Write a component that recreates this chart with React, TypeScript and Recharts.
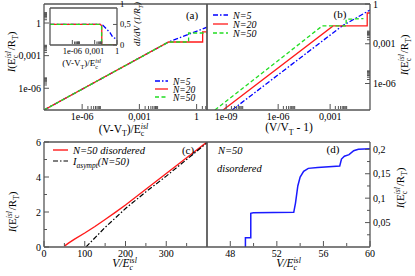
import React from 'react';
import { LineChart, Line, XAxis, YAxis } from 'recharts';

const W = 415;
const H = 276;
const FONT = '"Liberation Serif", "DejaVu Serif", serif';
const FRAME = '#555';
const BLUE = '#0000ff';
const RED = '#ff1a1a';
const GREEN = '#22dd22';
const BLACK = '#000';

// ---------- Panel (a): I vs (V-VT)/Ec ----------
const aN5X = [1e-8, 0.034, 3.5];
const aN5Y = [1e-8, 0.018, 0.41];
const aN20X = [1e-8, 0.034, 2.07, 2.07, 3.5];
const aN20Y = [1e-8, 0.018, 0.018, 0.15, 0.15];
const aN50X = [1e-8, 0.034, 0.38, 0.38, 3.5];
const aN50Y = [1e-8, 0.018, 0.018, 0.12, 0.12];
const aXMajors = [1e-6, 1e-3, 1];
const aXLabels = ['1e-06', '0,001', '1'];
const aYMajors = [1e-6, 1e-3, 1];
const aYLabels = ['1e-06', '0,001', '1'];

// ---------- Inset of (a): dI/dV ----------
const inN5X = [1e-9, 5.2e-3, 0.013, 0.115, 0.29, 1];
const inN5Y = [0.5, 0.5, 0.48, 0.3, 0.18, 0.15];
const inN20X = [1e-9, 6e-3, 9e-3, 9e-3, 1];
const inN20Y = [0.5, 0.5, 0.46, 0, 0];
const inN50X = [1e-9, 5.5e-3, 8.5e-3, 8.5e-3, 1];
const inN50Y = [0.5, 0.5, 0.46, 0, 0];
const inXMajors = [1e-6, 1e-3, 1];
const inXLabels = ['1e-06', '0,001', '1'];
const inYMajors = [0, 0.5, 1];
const inYLabels = ['0', '0,5', '1'];

// ---------- Panel (b): I vs V/VT - 1 ----------
const bN5X = [2.2e-9, 4.9e-3, 0.2];
const bN5Y = [1e-8, 0.022, 0.35];
const bN20X = [6.6e-10, 1.48e-3, 0.138, 0.138, 0.2];
const bN20Y = [1e-8, 0.022, 0.022, 0.21, 0.21];
const bN50X = [2.24e-10, 3.5e-4, 8.4e-3, 8.4e-3, 0.084];
const bN50Y = [1e-8, 0.022, 0.022, 0.07, 0.08];
const bXMajors = [1e-9, 1e-6, 1e-3];
const bXLabels = ['1e-09', '1e-06', '0,001'];
const bYMajors = [1e-6, 1e-3, 1];
const bYLabels = ['1e-06', '0,001', '1'];

// ---------- Panel (c): disordered N=50 ----------
const cVRed = [50, 60, 75, 100, 125, 150, 175, 200, 250, 300, 350, 400];
const cIRed = [0.05, 0.22, 0.45, 0.8, 1.17, 1.57, 1.98, 2.4, 3.3, 4.2, 5.1, 6.0];
const cVAsym = [103, 150, 200, 250, 300, 350, 400];
const cIAsym = [0, 1.12, 2.2, 3.15, 4.05, 5.0, 5.95];
const cXMajors = [0, 100, 200, 300];
const cXLabels = ['0', '100', '200', '300'];
const cXMinors = [50, 150, 250, 350];
const cYMajors = [0, 2, 4, 6];
const cYLabels = ['0', '2', '4', '6'];
const cYMinors = [1, 3, 5];

// ---------- Panel (d): zoom on the steps ----------
const dV = [49.3, 49.3, 49.76, 49.76, 49.97, 53.45, 53.6, 53.8, 54.0, 54.3, 54.7, 55.5, 57.4, 57.55, 57.8, 58.2, 58.6, 59.0, 60];
const dI = [0, 0.019, 0.019, 0.069, 0.07, 0.071, 0.09, 0.125, 0.143, 0.155, 0.161, 0.163, 0.166, 0.18, 0.186, 0.189, 0.197, 0.2, 0.201];
const dXMajors = [48, 52, 56, 60];
const dXLabels = ['48', '52', '56', '60'];
const dXMinors = [50, 54, 58];
const dYMajors = [0.05, 0.1, 0.15, 0.2];
const dYLabels = ['0,05', '0,1', '0,15', '0,2'];
const dYMinors = [0.025, 0.075, 0.125, 0.175];

type Dom = [number, number];
const pts = (xs: number[], ys: number[]) => xs.map((x, i) => ({ x, y: ys[i] }));
const decadeMinors = (majors: number[], dom: Dom) =>
  majors
    .flatMap((m) => [2, 3, 4, 5, 6, 7, 8, 9].map((k) => k * m))
    .filter((v) => v >= dom[0] && v <= dom[1]);

function tickRenderer(
  side: 'bottom' | 'left' | 'right',
  majors: number[],
  labels: string[],
  dom: Dom,
  fs: number,
  majLen = 5,
  minLen = 3,
) {
  return (props: any) => {
    const { payload } = props;
    const x = Number(props.x);
    const y = Number(props.y);
    const v = payload.value;
    const idx = majors.indexOf(v);
    const inside = v >= dom[0] - 1e-12 && v <= dom[1] * (1 + 1e-9);
    const len = idx >= 0 ? majLen : minLen;
    const lab = idx >= 0 ? labels[idx] : null;
    let ln: any = null;
    let tx: any = null;
    if (side === 'bottom') {
      const yb = y - 1;
      if (inside) ln = <line x1={x} x2={x} y1={yb} y2={yb - len} stroke={FRAME} strokeWidth={1} />;
      if (lab)
        tx = (
          <text x={x} y={yb + fs + 1} textAnchor="middle" fontFamily={FONT} fontSize={fs} fill="#000">
            {lab}
          </text>
        );
    } else if (side === 'left') {
      if (inside) ln = <line x1={x} x2={x + len} y1={y} y2={y} stroke={FRAME} strokeWidth={1} />;
      if (lab)
        tx = (
          <text x={x - 3} y={y} dy="0.35em" textAnchor="end" fontFamily={FONT} fontSize={fs} fill="#000">
            {lab}
          </text>
        );
    } else {
      if (inside) ln = <line x1={x} x2={x - len} y1={y} y2={y} stroke={FRAME} strokeWidth={1} />;
      if (lab)
        tx = (
          <text x={x + 3} y={y} dy="0.35em" textAnchor="start" fontFamily={FONT} fontSize={fs} fill="#000">
            {lab}
          </text>
        );
    }
    return (
      <g>
        {ln}
        {tx}
      </g>
    );
  };
}

type Series = { data: { x: number; y: number }[]; color: string; dash?: string; width?: number };

type PanelProps = {
  box: [number, number, number, number];
  xDom: Dom;
  yDom: Dom;
  xLog?: boolean;
  yLog?: boolean;
  xTicks: number[];
  xMajors: number[];
  xLabels: string[];
  yTicks: number[];
  yMajors: number[];
  yLabels: string[];
  ySide: 'left' | 'right';
  series: Series[];
  fs: number;
  majLen?: number;
  minLen?: number;
};

function Panel(p: PanelProps) {
  const [l, t, r, b] = p.box;
  const axisLine = { stroke: FRAME, strokeWidth: 1.3 };
  const majLen = p.majLen ?? 5;
  const minLen = p.minLen ?? 3;
  return (
    <div style={{ position: 'absolute', left: 0, top: 0 }}>
      <LineChart width={W} height={H} margin={{ left: l - 1, top: t - 1, right: W - r - 1, bottom: H - b - 1 }}>
        <XAxis
          xAxisId="m"
          dataKey="x"
          type="number"
          scale={p.xLog ? 'log' : 'linear'}
          domain={p.xDom}
          allowDataOverflow
          ticks={p.xTicks}
          interval={0}
          tick={tickRenderer('bottom', p.xMajors, p.xLabels, p.xDom, p.fs, majLen, minLen)}
          tickLine={false}
          tickSize={0}
          tickMargin={0}
          height={1}
          axisLine={axisLine}
        />
        <XAxis
          xAxisId="t"
          orientation="top"
          type="number"
          scale={p.xLog ? 'log' : 'linear'}
          domain={p.xDom}
          allowDataOverflow
          ticks={p.xMajors}
          tick={false}
          tickLine={false}
          height={1}
          axisLine={axisLine}
        />
        <YAxis
          yAxisId="m"
          orientation={p.ySide}
          type="number"
          scale={p.yLog ? 'log' : 'linear'}
          domain={p.yDom}
          allowDataOverflow
          ticks={p.yTicks}
          interval={0}
          tick={tickRenderer(p.ySide, p.yMajors, p.yLabels, p.yDom, p.fs, majLen, minLen)}
          tickLine={false}
          tickSize={0}
          tickMargin={0}
          width={1}
          axisLine={axisLine}
        />
        <YAxis
          yAxisId="o"
          orientation={p.ySide === 'left' ? 'right' : 'left'}
          type="number"
          scale={p.yLog ? 'log' : 'linear'}
          domain={p.yDom}
          allowDataOverflow
          ticks={p.yMajors}
          tick={false}
          tickLine={false}
          width={1}
          axisLine={axisLine}
        />
        {p.series.map((s, i) => (
          <Line
            key={i}
            xAxisId="m"
            yAxisId="m"
            data={s.data}
            dataKey="y"
            type="linear"
            stroke={s.color}
            strokeWidth={s.width ?? 1.3}
            strokeDasharray={s.dash}
            dot={false}
            activeDot={false}
            isAnimationActive={false}
          />
        ))}
      </LineChart>
    </div>
  );
}

const Ec = ({ fs }: { fs: number }) => (
  <>
    <tspan>E</tspan>
    <tspan fontSize={fs * 0.68} dy={fs * 0.3}>c</tspan>
    <tspan fontSize={fs * 0.68} fontStyle="italic" dx={-fs * 0.3} dy={-fs * 0.68}>isl</tspan>
    <tspan dy={fs * 0.38}>{'\u200A'}</tspan>
  </>
);

const YTitle = ({ x, y, fs }: { x: number; y: number; fs: number }) => (
  <text transform={`translate(${x},${y}) rotate(-90)`} textAnchor="middle" fontFamily={FONT} fontSize={fs} fill="#000">
    <tspan fontStyle="italic">I</tspan>
    <tspan>(</tspan>
    <Ec fs={fs} />
    <tspan>/R</tspan>
    <tspan fontSize={fs * 0.68} dy={fs * 0.3}>T</tspan>
    <tspan dy={-fs * 0.3}>)</tspan>
  </text>
);

const VVTTitle = ({ x, y, fs }: { x: number; y: number; fs: number }) => (
  <text x={x} y={y} textAnchor="middle" fontFamily={FONT} fontSize={fs} fill="#000">
    <tspan>(V-V</tspan>
    <tspan fontSize={fs * 0.68} dy={fs * 0.3}>T</tspan>
    <tspan dy={-fs * 0.3}>)/</tspan>
    <Ec fs={fs} />
  </text>
);

export default function App() {
  const aX: Dom = [1e-8, 3.5];
  const aY: Dom = [1e-8, 56];
  const bX: Dom = [7.8e-11, 0.2];
  const bY: Dom = [1e-8, 1];
  const inX: Dom = [1e-9, 1];
  const inY: Dom = [0, 0.9];
  const cX: Dom = [0, 400];
  const cY: Dom = [0, 6];
  const dX: Dom = [46, 60];
  const dY: Dom = [0, 0.215];

  const blueDash = '5 2 1.5 2';
  const greenDash = '4 2.5';
  const lfs = 10.5;
  const afs = 9.5;

  return (
    <div style={{ position: 'absolute', left: 0, top: 0, width: W, height: H, background: '#fff' }}>
      <Panel
        box={[44, 4, 207, 110]}
        xDom={aX}
        yDom={aY}
        xLog
        yLog
        xTicks={[...aXMajors, ...decadeMinors(aXMajors, aX)]}
        xMajors={aXMajors}
        xLabels={aXLabels}
        yTicks={[...aYMajors, ...decadeMinors(aYMajors, aY)]}
        yMajors={aYMajors}
        yLabels={aYLabels}
        ySide="left"
        fs={10}
        series={[
          { data: pts(aN5X, aN5Y), color: BLUE, dash: blueDash },
          { data: pts(aN20X, aN20Y), color: RED },
          { data: pts(aN50X, aN50Y), color: GREEN, dash: greenDash },
        ]}
      />
      <Panel
        box={[50, 8, 117, 45]}
        xDom={inX}
        yDom={inY}
        xLog
        xTicks={[...inXMajors, ...decadeMinors(inXMajors.slice(0, 2), inX)]}
        xMajors={inXMajors}
        xLabels={inXLabels}
        yTicks={inYMajors}
        yMajors={inYMajors}
        yLabels={inYLabels}
        ySide="right"
        fs={8.5}
        majLen={4}
        minLen={2.5}
        series={[
          { data: pts(inN5X, inN5Y), color: BLUE, dash: blueDash },
          { data: pts(inN20X, inN20Y), color: RED },
          { data: pts(inN50X, inN50Y), color: GREEN, dash: greenDash },
        ]}
      />
      <Panel
        box={[207, 4, 370, 110]}
        xDom={bX}
        yDom={bY}
        xLog
        yLog
        xTicks={[...bXMajors, ...decadeMinors(bXMajors, bX)]}
        xMajors={bXMajors}
        xLabels={bXLabels}
        yTicks={[...bYMajors, ...decadeMinors(bYMajors, bY)]}
        yMajors={bYMajors}
        yLabels={bYLabels}
        ySide="right"
        fs={10}
        series={[
          { data: pts(bN5X, bN5Y), color: BLUE, dash: blueDash },
          { data: pts(bN20X, bN20Y), color: RED },
          { data: pts(bN50X, bN50Y), color: GREEN, dash: greenDash },
        ]}
      />
      <Panel
        box={[44, 142, 207, 247]}
        xDom={cX}
        yDom={cY}
        xTicks={[...cXMajors, ...cXMinors]}
        xMajors={cXMajors}
        xLabels={cXLabels}
        yTicks={[...cYMajors, ...cYMinors]}
        yMajors={cYMajors}
        yLabels={cYLabels}
        ySide="left"
        fs={10}
        series={[
          { data: pts(cVRed, cIRed), color: RED, width: 1.4 },
          { data: pts(cVAsym, cIAsym), color: BLACK, dash: blueDash, width: 1.2 },
        ]}
      />
      <Panel
        box={[207, 142, 370, 247]}
        xDom={dX}
        yDom={dY}
        xTicks={[...dXMajors, ...dXMinors]}
        xMajors={dXMajors}
        xLabels={dXLabels}
        yTicks={[...dYMajors, ...dYMinors]}
        yMajors={dYMajors}
        yLabels={dYLabels}
        ySide="right"
        fs={10}
        series={[{ data: pts(dV, dI), color: '#1a1aff', width: 1.5 }]}
      />

      <svg width={W} height={H} style={{ position: 'absolute', left: 0, top: 0, pointerEvents: 'none' }}>
        {/* axis titles */}
        <YTitle x={15} y={52} fs={11} />
        <YTitle x={408} y={55} fs={11} />
        <YTitle x={16} y={212} fs={11} />
        <YTitle x={404} y={188} fs={11} />
        <VVTTitle x={124} y={133} fs={11.5} />
        <text x={289} y={131} textAnchor="middle" fontFamily={FONT} fontSize={11.5} fill="#000">
          <tspan>(V/V</tspan>
          <tspan fontSize={11.5 * 0.68} dy={3.5}>T</tspan>
          <tspan dy={-3.5}> - 1)</tspan>
        </text>
        <text x={125} y={267} textAnchor="middle" fontFamily={FONT} fontSize={11.5} fill="#000" fontStyle="italic">
          <tspan>V/</tspan>
          <Ec fs={11.5} />
        </text>
        <text x={289} y={267} textAnchor="middle" fontFamily={FONT} fontSize={11.5} fill="#000" fontStyle="italic">
          <tspan>V/</tspan>
          <Ec fs={11.5} />
        </text>
        <VVTTitle x={82} y={66} fs={9} />
        <text transform="translate(140,24) rotate(-90)" textAnchor="middle" fontFamily={FONT} fontSize={9} fill="#000" fontStyle="italic">
          <tspan>dI/dV (1/R</tspan>
          <tspan fontSize={6} dy={2.5}>T</tspan>
          <tspan dy={-2.5}>)</tspan>
        </text>

        {/* panel letters */}
        <text x={192} y={19} textAnchor="middle" fontFamily={FONT} fontSize={11} fill="#000">(a)</text>
        <text x={340} y={18} textAnchor="middle" fontFamily={FONT} fontSize={11} fill="#000">(b)</text>
        <text x={188} y={154} textAnchor="middle" fontFamily={FONT} fontSize={11} fill="#000">(c)</text>
        <text x={333} y={153} textAnchor="middle" fontFamily={FONT} fontSize={11} fill="#000">(d)</text>

        {/* legend (a) */}
        <line x1={155} x2={168} y1={81} y2={81} stroke={BLUE} strokeWidth={1.3} strokeDasharray={blueDash} />
        <line x1={155} x2={168} y1={89} y2={89} stroke={RED} strokeWidth={1.3} />
        <line x1={155} x2={168} y1={97} y2={97} stroke={GREEN} strokeWidth={1.3} strokeDasharray={greenDash} />
        <text x={173} y={84.5} fontFamily={FONT} fontSize={afs} fontStyle="italic" fill="#000">N=5</text>
        <text x={173} y={92.5} fontFamily={FONT} fontSize={afs} fontStyle="italic" fill="#000">N=20</text>
        <text x={173} y={100.5} fontFamily={FONT} fontSize={afs} fontStyle="italic" fill="#000">N=50</text>

        {/* legend (b) */}
        <line x1={213} x2={228} y1={15} y2={15} stroke={BLUE} strokeWidth={1.3} strokeDasharray={blueDash} />
        <line x1={213} x2={228} y1={24} y2={24} stroke={RED} strokeWidth={1.3} />
        <line x1={213} x2={228} y1={33} y2={33} stroke={GREEN} strokeWidth={1.3} strokeDasharray={greenDash} />
        <text x={233} y={18.5} fontFamily={FONT} fontSize={10} fontStyle="italic" fill="#000">N=5</text>
        <text x={233} y={27.5} fontFamily={FONT} fontSize={10} fontStyle="italic" fill="#000">N=20</text>
        <text x={233} y={36.5} fontFamily={FONT} fontSize={10} fontStyle="italic" fill="#000">N=50</text>

        {/* legend (c) */}
        <line x1={53} x2={68} y1={150} y2={150} stroke={RED} strokeWidth={1.4} />
        <text x={73} y={154} fontFamily={FONT} fontSize={lfs} fontStyle="italic" fill="#000">N=50 disordered</text>
        <line x1={53} x2={68} y1={161} y2={161} stroke={BLACK} strokeWidth={1.2} strokeDasharray={blueDash} />
        <text x={73} y={165} fontFamily={FONT} fontSize={lfs} fontStyle="italic" fill="#000">
          <tspan>I</tspan>
          <tspan fontSize={7.5} dy={2.5}>asympt</tspan>
          <tspan dy={-2.5}>(N=50)</tspan>
        </text>

        {/* labels (d) */}
        <text x={218} y={154} fontFamily={FONT} fontSize={lfs} fontStyle="italic" fill="#000">N=50</text>
        <text x={217} y={172} fontFamily={FONT} fontSize={lfs} fontStyle="italic" fill="#000">disordered</text>
      </svg>
    </div>
  );
}
